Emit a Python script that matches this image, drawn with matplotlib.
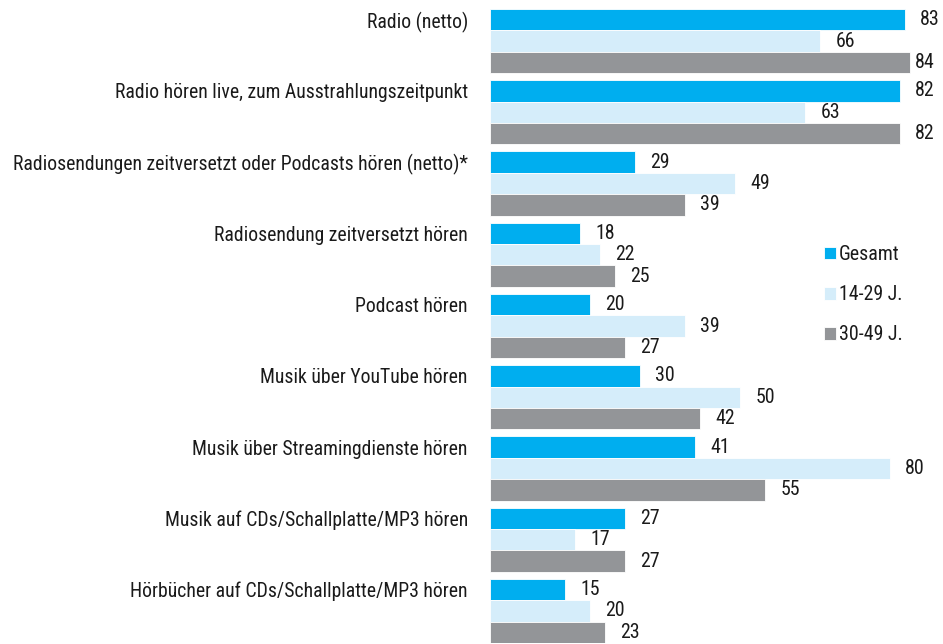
import matplotlib
matplotlib.use("Agg")
import matplotlib.pyplot as plt
import numpy as np

plt.rcParams["font.family"] = ["Roboto Condensed", "Archivo Narrow", "DejaVu Sans"]

categories = [
    "Radio (netto)",
    "Radio hören live, zum Ausstrahlungszeitpunkt",
    "Radiosendungen zeitversetzt oder Podcasts hören (netto)*",
    "Radiosendung zeitversetzt hören",
    "Podcast hören",
    "Musik über YouTube hören",
    "Musik über Streamingdienste hören",
    "Musik auf CDs/Schallplatte/MP3 hören",
    "Hörbücher auf CDs/Schallplatte/MP3 hören",
]
series_names = ["Gesamt", "14-29 J.", "30-49 J."]
gesamt = [83, 82, 29, 18, 20, 30, 41, 27, 15]
jung = [66, 63, 49, 22, 39, 50, 80, 17, 20]
mittel = [84, 82, 39, 25, 27, 42, 55, 27, 23]
colors = ["#00aeef", "#d5edfa", "#939598"]

fig = plt.figure(figsize=(9.43, 6.44), dpi=100)
ax = fig.add_axes([490 / 943, 1 / 644, 453 / 943, 634 / 644])

y = np.arange(len(categories))
h = 0.3
for k, (vals, name, col) in enumerate(zip([gesamt, jung, mittel], series_names, colors)):
    bars = ax.barh(y + (k - 1) * h, vals, height=h, color=col, label=name,
                   edgecolor="white", linewidth=0.6)
    anns = ax.bar_label(bars, labels=[str(v) for v in vals], padding=11,
                        fontsize=14.3, color="#1a1a1a")
    # longest bar: label squeezed in next to the bar so it stays on the page
    for a, v in zip(anns, vals):
        if v >= 84:
            a.xyann = (3.5, a.xyann[1])

ax.set_xlim(0, 90.6)
ax.set_ylim(8.45, -0.45)
ax.set_yticks(y - h)
ax.set_yticklabels(categories, fontsize=14.2, color="#1a1a1a")
ax.tick_params(axis="y", length=0, pad=16)
ax.set_xticks([])
for s in ax.spines.values():
    s.set_visible(False)

leg = ax.legend(loc="upper left", bbox_to_anchor=(326 / 453, 1 - 228 / 634),
                frameon=False, fontsize=14.3, handlelength=0.6, handleheight=0.6,
                handletextpad=0.15, labelspacing=1.07, borderaxespad=0)
for t in leg.get_texts():
    t.set_color("#1a1a1a")

fig.savefig("out.png", dpi=100)
